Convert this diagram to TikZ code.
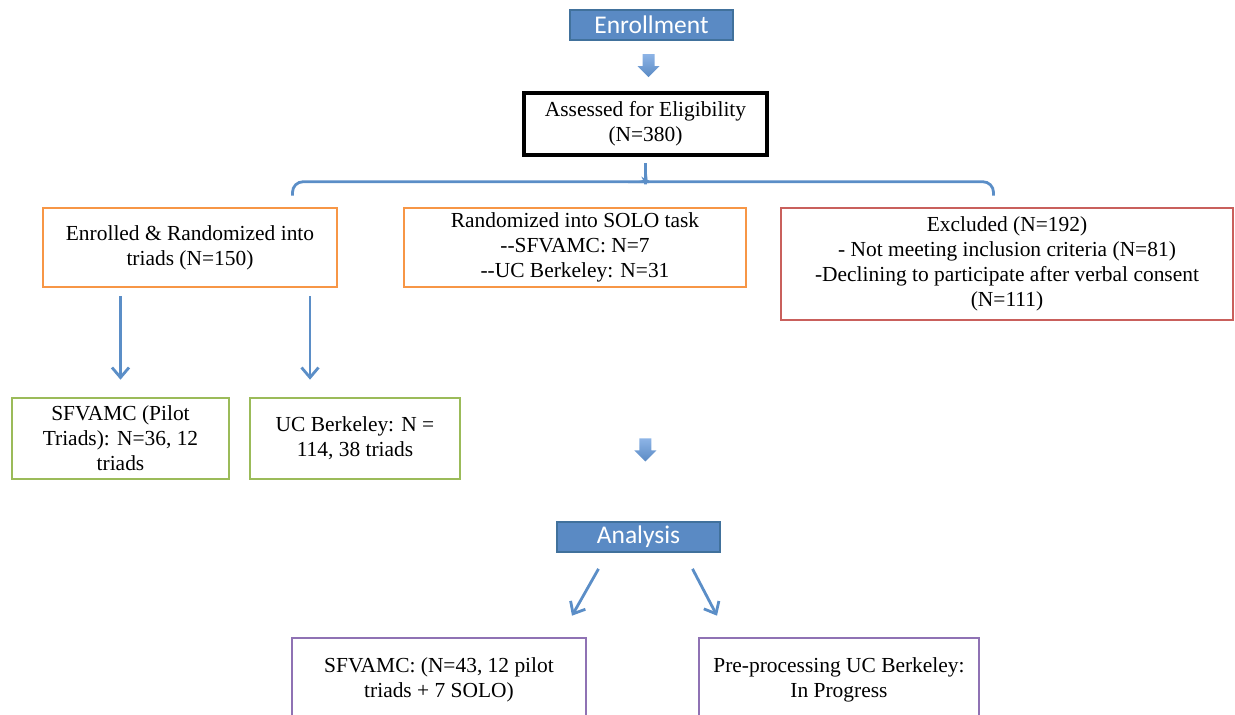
\documentclass[tikz,border=0pt]{standalone}
\usepackage{fontspec}
\setmainfont{Liberation Serif}
\newfontfamily\headfont{Carlito}
\usetikzlibrary{calc, arrows.meta, positioning}
\definecolor{boxblue}{HTML}{5A8AC4}
\definecolor{edgeblue}{HTML}{41719C}
\definecolor{flowblue}{HTML}{5B8EC7}
\definecolor{lightblue}{HTML}{8DB4E6}
\definecolor{boxorange}{HTML}{F79646}
\definecolor{boxred}{HTML}{C9605C}
\definecolor{boxgreen}{HTML}{9BBB59}
\definecolor{boxpurple}{HTML}{8F72B4}

\begin{document}
\begin{tikzpicture}
    [x=0.02cm, y=-0.02cm,
    font=\fontsize{12.2}{14.3}\selectfont,
    blockarrow/.pic={
    \shade[top color=lightblue, bottom color=boxblue] (-6,-12) -- (6,-12) -- (6,0) -- (11,0) -- (0,11) -- (-11,0) -- (-6,0) -- cycle;},
    head/.style={rectangle, minimum width=3.26cm, minimum height=0.6cm, inner sep=0pt, fill=boxblue, draw=edgeblue, line width=1pt, text=white, font=\headfont\fontsize{14.5}{16}\selectfont},
    stage/.style={rectangle, inner sep=0pt, align=center, line width=1.5pt},
    flow/.style={draw=flowblue, line width=1.6pt, -{Straight Barb[length=0.2cm, width=0.34cm]}},
    brace/.style={draw=flowblue, line width=1.6pt}]
\useasboundingbox (0,0) rectangle (1235,715);
\clip (0,0) rectangle (1235,715);
\node[head] (enroll) at (651.5,25) {Enrollment};
\node[stage, draw=black, line width=2pt, minimum width=4.86cm, minimum height=1.24cm] (assess) at (645.5,124) {Assessed for Eligibility\\(N=380)};
\node[stage, draw=boxorange, minimum width=5.88cm, minimum height=1.58cm] (enrolled) at (190,247.5) {Enrolled \& Randomized into\\triads (N=150)};
\node[stage, draw=boxorange, minimum width=6.84cm, minimum height=1.58cm] (solo) at (575,247.5) {Randomized into SOLO task\\-{}-SFVAMC: N=7\\-{}-UC Berkeley: N=31};
\node[stage, draw=boxred, minimum width=9.04cm, minimum height=2.24cm] (excl) at (1007,264) {Excluded (N=192)\\- Not meeting inclusion criteria (N=81)\\-Declining to participate after verbal consent\\(N=111)};
\node[stage, draw=boxgreen, minimum width=4.34cm, minimum height=1.62cm] (sfv) at (120.5,438.5) {SFVAMC (Pilot\\Triads): N=36, 12\\triads};
\node[stage, draw=boxgreen, minimum width=4.2cm, minimum height=1.62cm] (ucb) at (355,438.5) {UC Berkeley: N =\\114, 38 triads};
\node[head] (analysis) at (638.5,537) {Analysis};
\node[stage, draw=boxpurple, minimum width=5.88cm, minimum height=1.66cm] (sfvb) at (439,679.5) {SFVAMC: (N=43, 12 pilot\\triads + 7 SOLO)};
\node[stage, draw=boxpurple, minimum width=5.6cm, minimum height=1.66cm] (pre) at (839,679.5) {Pre-processing UC Berkeley:\\In Progress};
\path ($(enroll.south)!0.5!(assess.north)$) pic{blockarrow};
\path ($(ucb.east)+(184,12)$) pic{blockarrow};
\coordinate (tip) at ($(assess.south)+(0,9)$);
\draw[brace, rounded corners=6] ($(assess.south)+(-353,39)$) |- ($(assess.south)+(-7,25)$) to[out=0,in=-90] ($(tip)+(0,8)$) -- (tip);
\draw[brace, rounded corners=6] ($(assess.south)+(348,39)$) |- ($(assess.south)+(7,25)$) to[out=180,in=-90] ($(tip)+(0,8)$);
\draw[flow, shorten <=0.16cm, shorten >=0.34cm] (enrolled.south -| sfv.north) -- (sfv.north);
\draw[flow, shorten <=0.16cm, shorten >=0.34cm] ([xshift=-0.9cm]enrolled.south -| ucb.north) -- ([xshift=-0.9cm]ucb.north);
\draw[flow] ($(analysis.south)+(-40,16)$) -- ($(sfvb.north)+(133,-21)$);
\draw[flow] ($(analysis.south)+(54,16)$) -- ($(pre.north)+(-122,-21)$);
\end{tikzpicture}
\end{document}
